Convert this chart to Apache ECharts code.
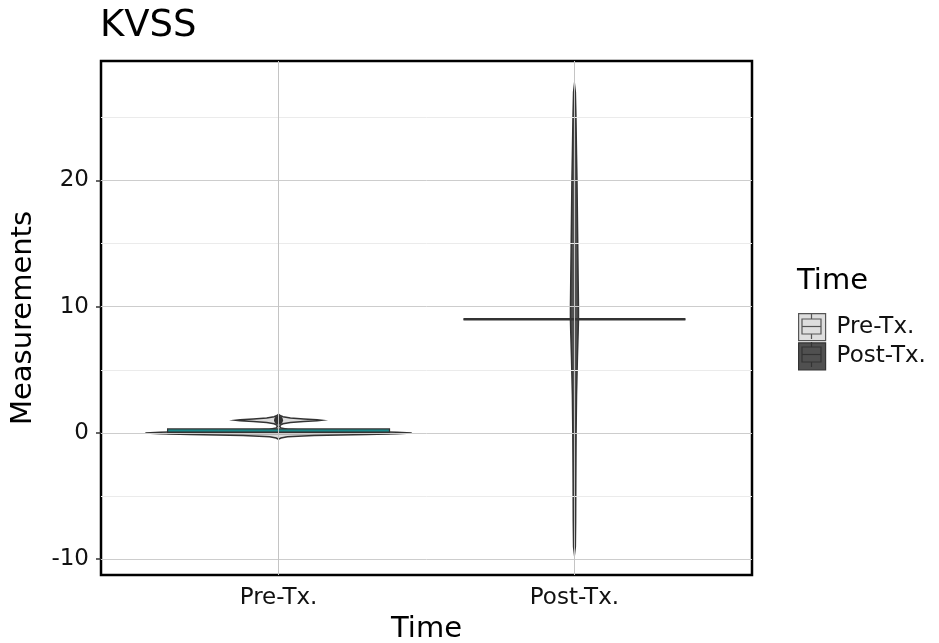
<!DOCTYPE html>
<html>
<head>
<meta charset="utf-8">
<script src="https://cdn.jsdelivr.net/npm/echarts@6/dist/echarts.min.js"></script>
<style>html,body{margin:0;padding:0;background:#fff}#c{width:939px;height:643px}</style>
</head>
<body>
<div id="c"></div>
<script>
// ---------- data ----------
const categories = ['Pre-Tx.', 'Post-Tx.'];
const yTicks = [-10, 0, 10, 20];
const yMinorTicks = [-5, 5, 15, 25];

// violin outlines: y values and half-widths (in category units)
const preViolinY = [-0.5, -0.4, -0.3, -0.2, -0.12, -0.06, 0, 0.06, 0.12, 0.2, 0.3, 0.4, 0.5, 0.62, 0.72, 0.82, 0.9, 0.96, 1.0, 1.04, 1.1, 1.18, 1.28, 1.38, 1.48];
const preViolinW = [0, 0.008, 0.03, 0.12, 0.30, 0.40, 0.45, 0.40, 0.30, 0.12, 0.03, 0.008, 0.004, 0.006, 0.015, 0.04, 0.085, 0.13, 0.145, 0.13, 0.085, 0.04, 0.015, 0.005, 0];
const postViolinY = [-9.6, -9, -7, -4, 0, 3, 6, 8, 9, 10, 12, 15, 18, 20, 22, 25, 27, 27.6];
const postViolinW = [0, 0.003, 0.004, 0.0045, 0.0055, 0.007, 0.010, 0.0125, 0.0135, 0.0135, 0.0125, 0.011, 0.0095, 0.0085, 0.007, 0.005, 0.003, 0];

// boxplot stats per category: [lowerWhisker, q1, median, q3, upperWhisker]
const boxLower = [0, 9];
const boxQ1 = [0, 9];
const boxMedian = [0, 9];
const boxQ3 = [0.32, 9];
const boxUpper = [0.32, 9];
const preOutliers = [1];
const postOutliers = [];

// ---------- styles ----------
const FONT = 'DejaVu Sans';
const violinFill = ['#dedede', '#505050'];
const boxFill = '#1a8a8a';
const BOX_HALF = 0.375;

const chart = echarts.init(document.getElementById('c'), null, {renderer: 'canvas'});

function violinSeries(idx, ys, ws) {
  const xPos = idx + 1;
  return {
    type: 'custom',
    name: categories[idx],
    z: 3,
    silent: true,
    itemStyle: {color: violinFill[idx]},
    data: [[xPos, boxMedian[idx]]],
    encode: {x: 0, y: 1},
    renderItem: function (params, api) {
      const left = [], right = [];
      for (let i = 0; i < ys.length; i++) {
        left.push(api.coord([xPos - ws[i], ys[i]]));
        right.push(api.coord([xPos + ws[i], ys[i]]));
      }
      const pts = left.concat(right.reverse());
      return {
        type: 'polygon',
        shape: {points: pts},
        style: {fill: violinFill[idx], stroke: '#333333', lineWidth: 1.5}
      };
    }
  };
}

const outliers = [preOutliers, postOutliers];
const boxSeries = {
  type: 'custom',
  name: 'box',
  z: 4,
  silent: true,
  data: categories.map((c, i) => [i + 1, boxMedian[i]]),
  encode: {x: 0, y: 1},
  renderItem: function (params, api) {
    const i = params.dataIndex;
    const x = i + 1;
    const tl = api.coord([x - BOX_HALF, boxQ3[i]]);
    const br = api.coord([x + BOX_HALF, boxQ1[i]]);
    const mL = api.coord([x - BOX_HALF, boxMedian[i]]);
    const mR = api.coord([x + BOX_HALF, boxMedian[i]]);
    const wTop1 = api.coord([x, boxQ3[i]]);
    const wTop2 = api.coord([x, boxUpper[i]]);
    const wBot1 = api.coord([x, boxQ1[i]]);
    const wBot2 = api.coord([x, boxLower[i]]);
    const children = [
      {type: 'line', shape: {x1: wTop1[0], y1: wTop1[1], x2: wTop2[0], y2: wTop2[1]}, style: {stroke: '#333', lineWidth: 1.5}},
      {type: 'line', shape: {x1: wBot1[0], y1: wBot1[1], x2: wBot2[0], y2: wBot2[1]}, style: {stroke: '#333', lineWidth: 1.5}},
      {type: 'rect', shape: {x: tl[0], y: tl[1], width: br[0] - tl[0], height: br[1] - tl[1]},
        style: {fill: boxFill, stroke: '#333', lineWidth: 1.2}},
      {type: 'line', shape: {x1: mL[0], y1: mL[1], x2: mR[0], y2: mR[1]}, style: {stroke: '#333', lineWidth: 2.6}}
    ];
    outliers[i].forEach(v => {
      const p = api.coord([x, v]);
      children.push({type: 'circle', shape: {cx: p[0], cy: p[1], r: 4.5}, style: {fill: '#333'}});
    });
    return {type: 'group', children};
  }
};

const gridLineSeries = {
  type: 'scatter',
  name: 'grid',
  symbolSize: 0,
  silent: true,
  z: 1,
  data: [[1, 0]],
  markLine: {
    silent: true,
    symbol: ['none', 'none'],
    label: {show: false},
    animation: false,
    data: [
      ...yMinorTicks.map(v => ({yAxis: v, lineStyle: {color: '#ebebeb', width: 1, type: 'solid'}})),
      ...yTicks.map(v => ({yAxis: v, lineStyle: {color: '#cdcdcd', width: 1, type: 'solid'}})),
      ...categories.map((c, i) => ({xAxis: i + 1, lineStyle: {color: '#c4c4c4', width: 1, type: 'solid'}}))
    ]
  }
};

function keyGlyph(x0, y0, fill, stroke) {
  return [
    {type: 'line', silent: true, z: 100, shape: {x1: x0 + 9.5, y1: y0, x2: x0 + 9.5, y2: y0 + 5}, style: {stroke: stroke, lineWidth: 1.2}},
    {type: 'rect', silent: true, z: 100, shape: {x: x0, y: y0 + 5, width: 19, height: 15}, style: {fill: fill, stroke: stroke, lineWidth: 1.2}},
    {type: 'line', silent: true, z: 101, shape: {x1: x0, y1: y0 + 12.5, x2: x0 + 19, y2: y0 + 12.5}, style: {stroke: stroke, lineWidth: 1.2}},
    {type: 'line', silent: true, z: 100, shape: {x1: x0 + 9.5, y1: y0 + 20, x2: x0 + 9.5, y2: y0 + 25}, style: {stroke: stroke, lineWidth: 1.2}}
  ];
}

const option = {
  animation: false,
  backgroundColor: '#ffffff',
  title: [
    {text: 'KVSS', left: 100, top: 8, padding: 0,
      textStyle: {fontFamily: FONT, fontSize: 37, fontWeight: 'normal', color: '#000'}},
    {text: 'Time', left: 797, top: 267, padding: 0,
      textStyle: {fontFamily: FONT, fontSize: 29, fontWeight: 'normal', color: '#000'}}
  ],
  grid: {left: 101, top: 61, right: 187, bottom: 68, show: true, borderColor: '#000', borderWidth: 2.5,
    backgroundColor: 'transparent', containLabel: false, outerBoundsMode: 'none'},
  legend: {
    orient: 'vertical',
    left: 798,
    top: 313,
    padding: 0,
    itemWidth: 27,
    itemHeight: 27,
    itemGap: 1,
    selectedMode: false,
    icon: 'rect',
    textStyle: {fontFamily: FONT, fontSize: 23, color: '#111', padding: [0, 0, 0, 6]},
    data: [
      {name: categories[0], itemStyle: {color: '#dedede', borderColor: '#555', borderWidth: 1.2}},
      {name: categories[1], itemStyle: {color: '#505050', borderColor: '#333', borderWidth: 1.2}}
    ]
  },
  graphic: {
    elements: [].concat(keyGlyph(802, 314, '#dedede', '#555'), keyGlyph(802, 342, '#505050', '#333'))
  },
  xAxis: {
    type: 'value',
    min: 0.4,
    max: 2.6,
    name: 'Time',
    nameLocation: 'middle',
    nameGap: 40,
    nameTextStyle: {fontFamily: FONT, fontSize: 29, color: '#000'},
    axisLine: {show: false},
    splitLine: {show: false},
    axisTick: {show: true, length: 5, lineStyle: {color: '#333', width: 1.5}, customValues: [1, 2]},
    axisLabel: {
      customValues: [1, 2],
      margin: 12,
      fontFamily: FONT, fontSize: 23, color: '#111',
      formatter: v => categories[Math.round(v) - 1] || ''
    }
  },
  yAxis: {
    type: 'value',
    min: -11.25,
    max: 29.45,
    name: 'Measurements',
    nameLocation: 'middle',
    nameGap: 63,
    nameTextStyle: {fontFamily: FONT, fontSize: 29, color: '#000'},
    axisLine: {show: false},
    splitLine: {show: false},
    axisTick: {show: true, length: 5, lineStyle: {color: '#333', width: 1.5}, customValues: yTicks},
    axisLabel: {customValues: yTicks, margin: 12, fontFamily: FONT, fontSize: 23, color: '#111'}
  },
  series: [
    gridLineSeries,
    violinSeries(0, preViolinY, preViolinW),
    violinSeries(1, postViolinY, postViolinW),
    boxSeries
  ]
};
chart.setOption(option);
</script>
</body>
</html>
